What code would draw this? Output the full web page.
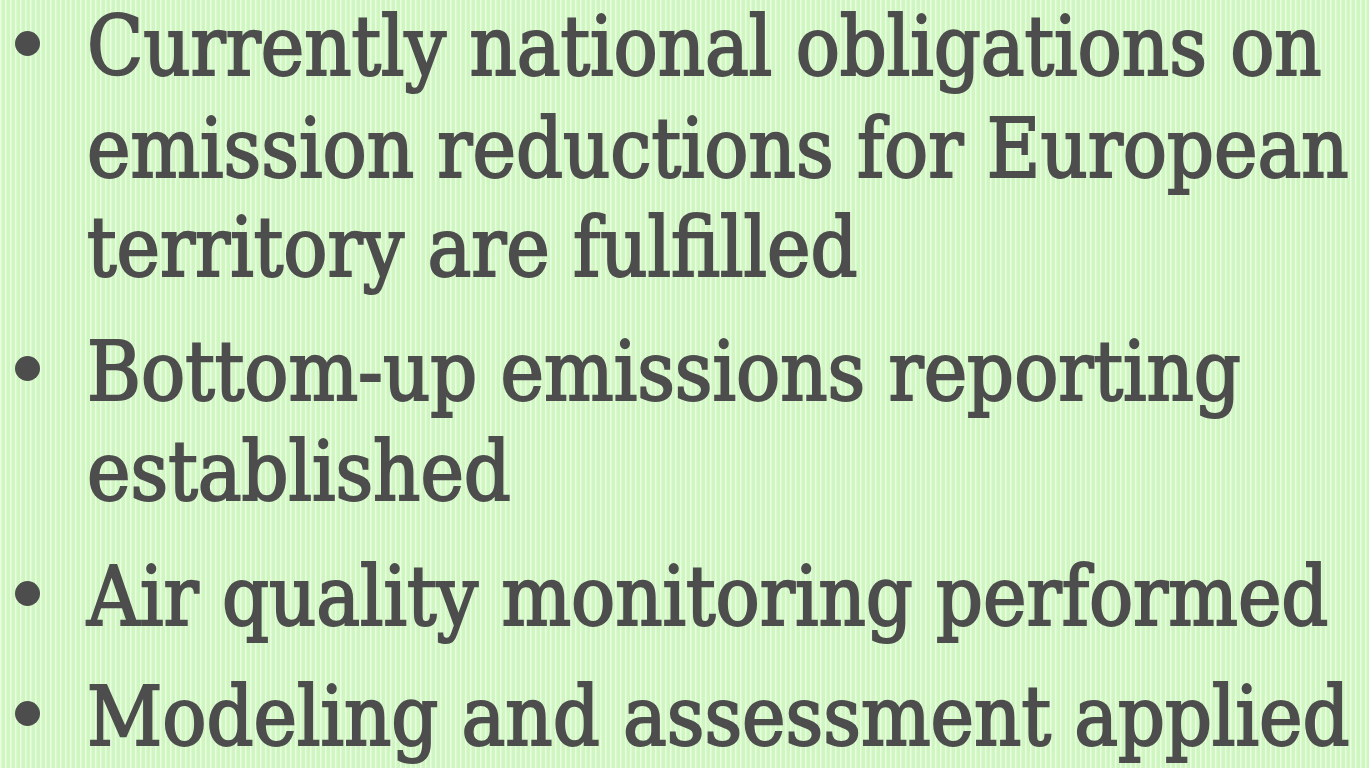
<!DOCTYPE html>
<html lang="en">
<head>
<meta charset="UTF-8">
<title>Bullets</title>
<script src="https://cdn.jsdelivr.net/npm/chart.js"></script>
<style>
    html, body {
        margin: 0;
        padding: 0;
        width: 1369px;
        height: 768px;
        overflow: hidden;
    }
    body {
        position: relative;
        background: repeating-linear-gradient(90deg,
            #eafee2 0px, #eafee2 1px,
            #dcfad0 1px, #dcfad0 2px,
            #cff5c1 2px, #cff5c1 5px);
        font-family: "DejaVu Serif Condensed", "DejaVu Serif", serif;
        font-stretch: condensed;
        color: #4d4d4d;
    }
    .line {
        position: absolute;
        left: 87px;
        line-height: 1;
        white-space: nowrap;
        -webkit-text-stroke: 2px #4d4d4d;
    }
    .mark {
        display: inline-block;
        width: 0;
        height: 0;
        vertical-align: baseline;
    }
    .dot {
        position: absolute;
        left: 15px;
        width: 25px;
        height: 25px;
        border-radius: 50%;
        background: #4d4d4d;
    }
</style>
</head>
<body>
<script>
// 箇条書きの各行（bullet: 行頭に点を付けるかどうか）
const lineTexts = [
    'Currently national obligations on',
    'emission reductions for European',
    'territory are fulfilled',
    'Bottom-up emissions reporting',
    'established',
    'Air quality monitoring performed',
    'Modeling and assessment applied'
];
const lineBullet = [true, false, false, true, false, true, true];
// 各行のベースライン位置(px)
const lineBaselines = [75, 177, 276, 400, 500, 625, 745];

// 2行目の幅に合わせてフォントサイズを決める
const probe = document.createElement('div');
probe.className = 'line';
probe.style.fontSize = '100px';
probe.style.top = '0px';
probe.textContent = lineTexts[1];
const mark = document.createElement('span');
mark.className = 'mark';
probe.appendChild(mark);
document.body.appendChild(probe);
const fontSize = 1262 / probe.getBoundingClientRect().width * 100;
probe.style.fontSize = fontSize + 'px';
const baseOffset = mark.getBoundingClientRect().top - probe.getBoundingClientRect().top;
probe.remove();

lineTexts.forEach((t, i) => {
    const div = document.createElement('div');
    div.className = 'line';
    div.style.fontSize = fontSize + 'px';
    div.style.top = (lineBaselines[i] - baseOffset) + 'px';
    div.textContent = t;
    document.body.appendChild(div);
    if (lineBullet[i]) {
        const dot = document.createElement('div');
        dot.className = 'dot';
        dot.style.top = (lineBaselines[i] - 44) + 'px';
        document.body.appendChild(dot);
    }
});
</script>
</body>
</html>
